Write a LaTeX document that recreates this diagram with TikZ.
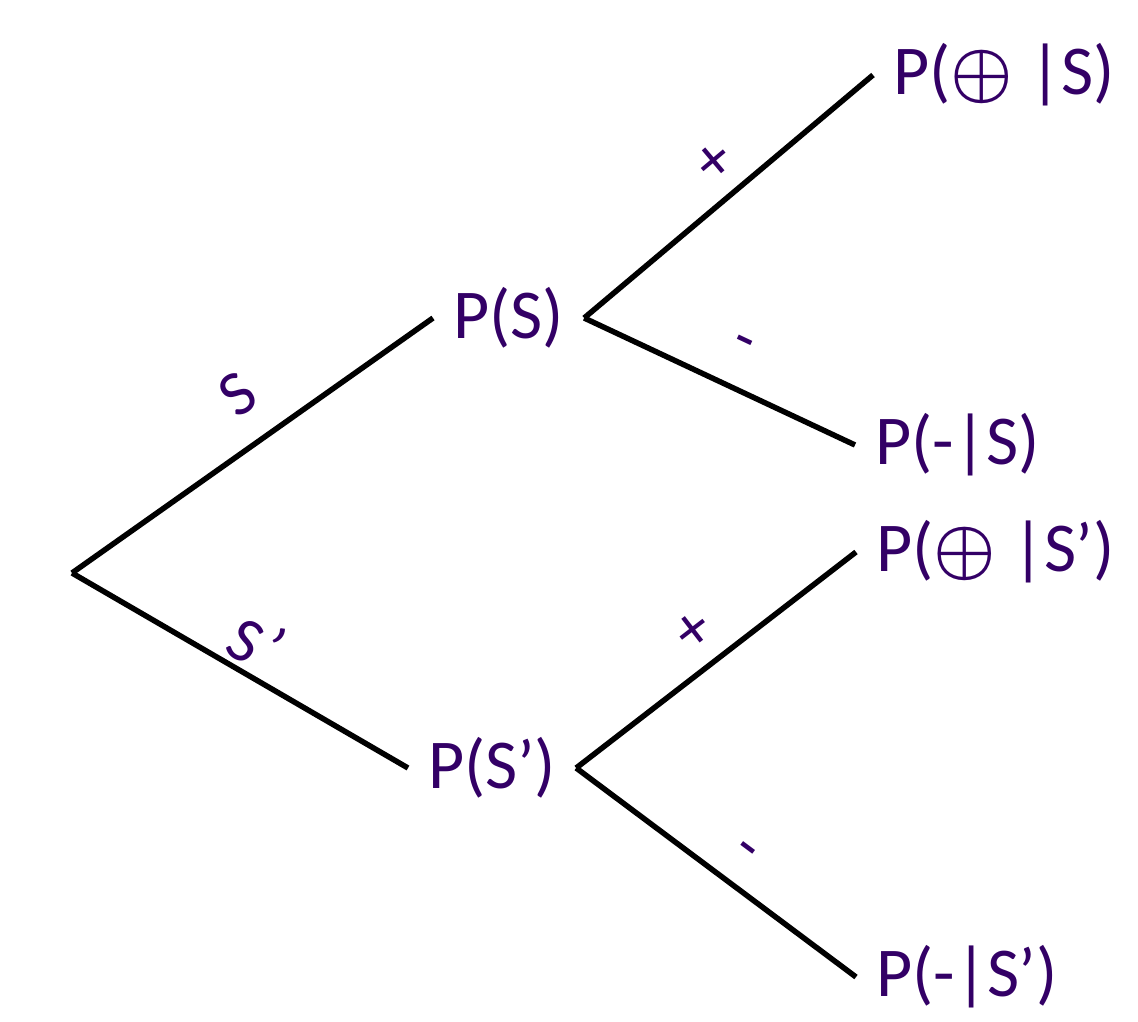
\RequirePackage{fix-cm}
\documentclass[tikz,border=0pt]{standalone}
\usepackage{fontspec}
\setmainfont{Carlito}
\definecolor{probcol}{RGB}{51,0,102}
\newcommand{\circplus}{{\boldmath$\oplus$}}
\tikzset{
  prob/.style={anchor=west,inner xsep=20pt,text=probcol,font=\fontsize{70}{74}\selectfont},
  branch/.style={line width=5.5pt,black},
  blabel/.style={sloped,anchor=center,inner sep=0pt,text=probcol,font=\fontsize{64}{68}\selectfont}
}
\begin{document}
\begin{tikzpicture}[x=1pt,y=-1pt]
    \useasboundingbox (0,0) rectangle (1138,1022);
    \coordinate (root) at (72,573);
    \node[prob] (ps)  at (433,318) {P(S)};
    \node[prob] (psp) at (408,768) {P(S’)};
    \node[prob] (pps)  at (873,75)  {P(\circplus\ |S)};
    \node[prob] (pms)  at (855,445) {P(-|S)};
    \node[prob] (ppsp) at (856,552) {P(\circplus\ |S’)};
    \node[prob] (pmsp) at (856,977) {P(-|S’)};
    \draw[branch] (root) -- node[blabel,pos=0.54,yshift=50pt] {S} (ps.west);
    \draw[branch] (root) -- node[blabel,pos=0.5,yshift=33pt] {S\kern4pt\raisebox{6pt}{’}} (psp.west);
    \draw[branch] (ps.east) -- node[blabel,pos=0.53,yshift=34pt] {+} (pps.west);
    \draw[branch] (ps.east) -- node[blabel,pos=0.52,yshift=40pt] {-} (pms.west);
    \draw[branch] (psp.east) -- node[blabel,pos=0.5,yshift=35pt] {+} (ppsp.west);
    \draw[branch] (psp.east) -- node[blabel,pos=0.53,yshift=31pt] {-} (pmsp.west);
  \end{tikzpicture}
\end{document}
